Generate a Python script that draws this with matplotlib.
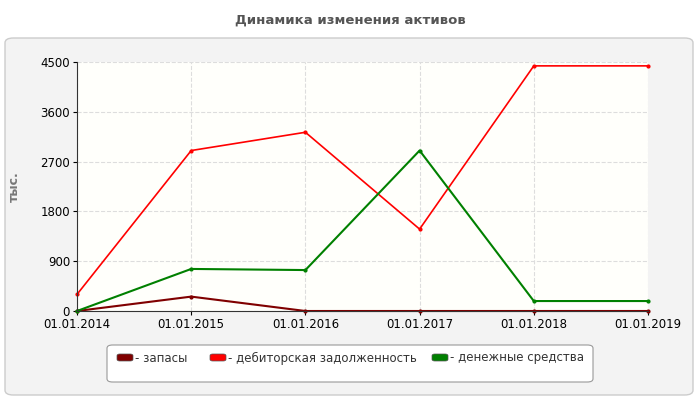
import matplotlib.pyplot as plt
from matplotlib.patches import FancyBboxPatch

years = ["01.01.2014", "01.01.2015", "01.01.2016", "01.01.2017", "01.01.2018", "01.01.2019"]
zapasy = [0, 260, 0, 0, 0, 0]
debitor = [300, 2900, 3230, 1480, 4430, 4430]
dengi = [0, 760, 740, 2900, 180, 180]
yticks = [0, 900, 1800, 2700, 3600, 4500]

W, H = 700, 400
fig = plt.figure(figsize=(7, 4), dpi=100)
fig.patch.set_facecolor("white")

# outer gray panel
panel = FancyBboxPatch((5 / W, 5 / H), 688 / W, 357 / H, boxstyle="round,pad=0,rounding_size=0.012",
                       transform=fig.transFigure, facecolor="#f3f3f3", edgecolor="#cccccc", lw=1, zorder=-5)
fig.patches.append(panel)

fig.text(350 / W, 1 - 20 / H, "Динамика изменения активов", ha="center", va="center",
         fontsize=9.5, fontweight="bold", color="#555555")

ax = fig.add_axes([77 / W, 1 - 311 / H, 571 / W, 249 / H])
ax.set_zorder(3)
ax.set_facecolor("#fffffb")
x = range(len(years))
ax.plot(x, zapasy, color="#800000", lw=1.5, marker="o", ms=2, clip_on=False)
ax.plot(x, debitor, color="#ff0000", lw=1.2, marker="o", ms=2, clip_on=False)
ax.plot(x, dengi, color="#008000", lw=1.5, marker="o", ms=2, clip_on=False)
ax.set_xlim(0, 5)
ax.set_ylim(0, 4500)
ax.set_xticks(list(x))
ax.set_xticklabels(years, fontsize=8.5)
ax.set_yticks(yticks)
ax.set_yticklabels([str(v) for v in yticks], fontsize=8.5)
ax.grid(True, color="#dddddd", ls="--", lw=0.8)
for s in ["top", "right"]:
    ax.spines[s].set_visible(False)
ax.spines["left"].set_color("#333333")
ax.spines["bottom"].set_color("#333333")
ax.tick_params(length=3, pad=2)
ax.set_ylabel("тыс.", fontsize=9, fontweight="bold", color="#777777", labelpad=14)

# legend box
fig.patches.append(FancyBboxPatch((107 / W, 1 - 382 / H), 486 / W, 37 / H,
                                  boxstyle="round,pad=0,rounding_size=0.008", transform=fig.transFigure,
                                  facecolor="white", edgecolor="#999999", lw=0.8, zorder=1))
items = [("- запасы", "#800000", 117), ("- дебиторская задолженность", "#ff0000", 210),
         ("- денежные средства", "#008000", 432)]
for label, col, px in items:
    fig.patches.append(FancyBboxPatch((px / W, 1 - 361 / H), 16 / W, 7 / H,
                                      boxstyle="round,pad=0,rounding_size=0.004", transform=fig.transFigure,
                                      facecolor=col, edgecolor="#555555", lw=0.5, zorder=2))
    fig.text((px + 18) / W, 1 - 358 / H, label, fontsize=8.5, va="center", color="#333333")

fig.savefig("out.png", dpi=100)
